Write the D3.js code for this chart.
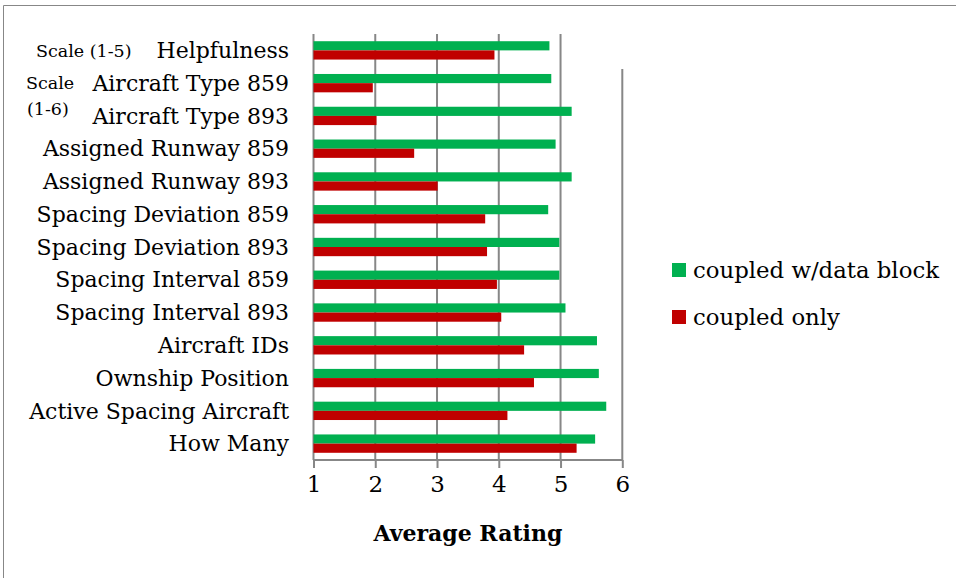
<!DOCTYPE html>
<html>
<head>
<meta charset="utf-8">
<script src="https://cdn.jsdelivr.net/npm/d3@7"></script>
<style>
  body { margin: 0; background: #fff; }
  svg { display: block; }
  text { font-family: "DejaVu Serif", "Liberation Serif", serif; fill: #000; }
</style>
</head>
<body>
<svg id="chart" width="956" height="578"></svg>
<script>
// Survey items, top to bottom
const categories = [
  "Helpfulness",
  "Aircraft Type 859",
  "Aircraft Type 893",
  "Assigned Runway 859",
  "Assigned Runway 893",
  "Spacing Deviation 859",
  "Spacing Deviation 893",
  "Spacing Interval 859",
  "Spacing Interval 893",
  "Aircraft IDs",
  "Ownship Position",
  "Active Spacing Aircraft",
  "How Many"
];
const seriesNames = ["coupled w/data block", "coupled only"];
const coupledDataBlock = [4.82, 4.85, 5.18, 4.92, 5.18, 4.80, 4.98, 4.98, 5.08, 5.59, 5.62, 5.74, 5.56];
const coupledOnly      = [3.93, 1.96, 2.02, 2.63, 3.01, 3.78, 3.81, 3.97, 4.04, 4.41, 4.57, 4.14, 5.26];
const tickValues = [1, 2, 3, 4, 5, 6];
const colors = ["#00B050", "#C00000"];

const svg = d3.select("#chart");
const gridColor = "#878787";

// outer frame (top and left edges)
svg.append("path")
  .attr("d", "M3.5,578 V5.5 H956")
  .attr("fill", "none").attr("stroke", gridColor).attr("stroke-width", 1);

const plot = { left: 313.5, right: 622.3, top: 34, bottom: 460 };

const x = d3.scaleLinear().domain([1, 6]).range([plot.left, plot.right]);
const y = d3.scaleBand().domain(categories).range([plot.top, plot.bottom]).paddingInner(0.44).paddingOuter(0.22);
const ySub = d3.scaleBand().domain(seriesNames).range([0, y.bandwidth()]);

// vertical gridlines; the top item uses a 1-5 scale so the 6 line starts below it
const g = svg.append("g");
g.selectAll("line.grid").data(tickValues).join("line")
  .attr("class", "grid")
  .attr("x1", d => x(d)).attr("x2", d => x(d))
  .attr("y1", d => d === 6 ? y(categories[1]) - 5 : plot.top)
  .attr("y2", plot.bottom)
  .attr("stroke", gridColor).attr("stroke-width", 2);

// bars
const rows = categories.map((c, i) => ({ c, vals: [coupledDataBlock[i], coupledOnly[i]] }));
const grp = g.selectAll("g.row").data(rows).join("g")
  .attr("class", "row")
  .attr("transform", d => `translate(0,${y(d.c)})`);
grp.selectAll("rect").data(d => d.vals.map((v, k) => ({ v, k }))).join("rect")
  .attr("x", x(1))
  .attr("y", d => ySub(seriesNames[d.k]))
  .attr("width", d => x(d.v) - x(1))
  .attr("height", ySub.bandwidth())
  .attr("fill", d => colors[d.k]);

// x axis
const xAxis = d3.axisBottom(x).tickValues(tickValues).tickSize(8).tickPadding(8).tickFormat(d3.format("d"));
const ax = svg.append("g").attr("transform", `translate(0,${plot.bottom})`).call(xAxis);
ax.select(".domain").attr("stroke", gridColor).attr("stroke-width", 2).attr("d", `M${plot.left},0H${plot.right}`);
ax.selectAll(".tick line").attr("stroke", gridColor).attr("stroke-width", 2);
ax.selectAll(".tick text").attr("font-size", 23).attr("font-family", "DejaVu Serif").attr("fill", "#000");

svg.append("text")
  .attr("x", (plot.left + plot.right) / 2).attr("y", 541)
  .attr("text-anchor", "middle").attr("font-size", 22).attr("font-weight", "bold")
  .text("Average Rating");

// category labels
svg.selectAll("text.cat").data(categories).join("text")
  .attr("class", "cat")
  .attr("x", 289).attr("y", d => y(d) + y.bandwidth() / 2)
  .attr("dy", "0.35em")
  .attr("text-anchor", "end").attr("font-size", 22)
  .text(d => d);

// scale annotations
const ann = [
  { t: "Scale (1-5)", x: 36, y: y(categories[0]) + y.bandwidth() / 2 },
  { t: "Scale", x: 26, y: y(categories[1]) + y.bandwidth() / 2 },
  { t: "(1-6)", x: 27, y: y(categories[2]) + y.bandwidth() / 2 - 7 }
];
svg.selectAll("text.ann").data(ann).join("text")
  .attr("class", "ann")
  .attr("x", d => d.x).attr("y", d => d.y).attr("dy", "0.35em")
  .attr("font-size", 17.5)
  .text(d => d.t);

// legend
const legend = svg.append("g").attr("transform", "translate(672,263)");
const li = legend.selectAll("g").data(seriesNames).join("g")
  .attr("transform", (d, i) => `translate(0,${i * 47})`);
li.append("rect").attr("width", 14).attr("height", 14).attr("fill", (d, i) => colors[i]);
li.append("text").attr("x", 21).attr("y", 7).attr("dy", "0.35em").attr("font-size", 22.8).text(d => d);
</script>
</body>
</html>
